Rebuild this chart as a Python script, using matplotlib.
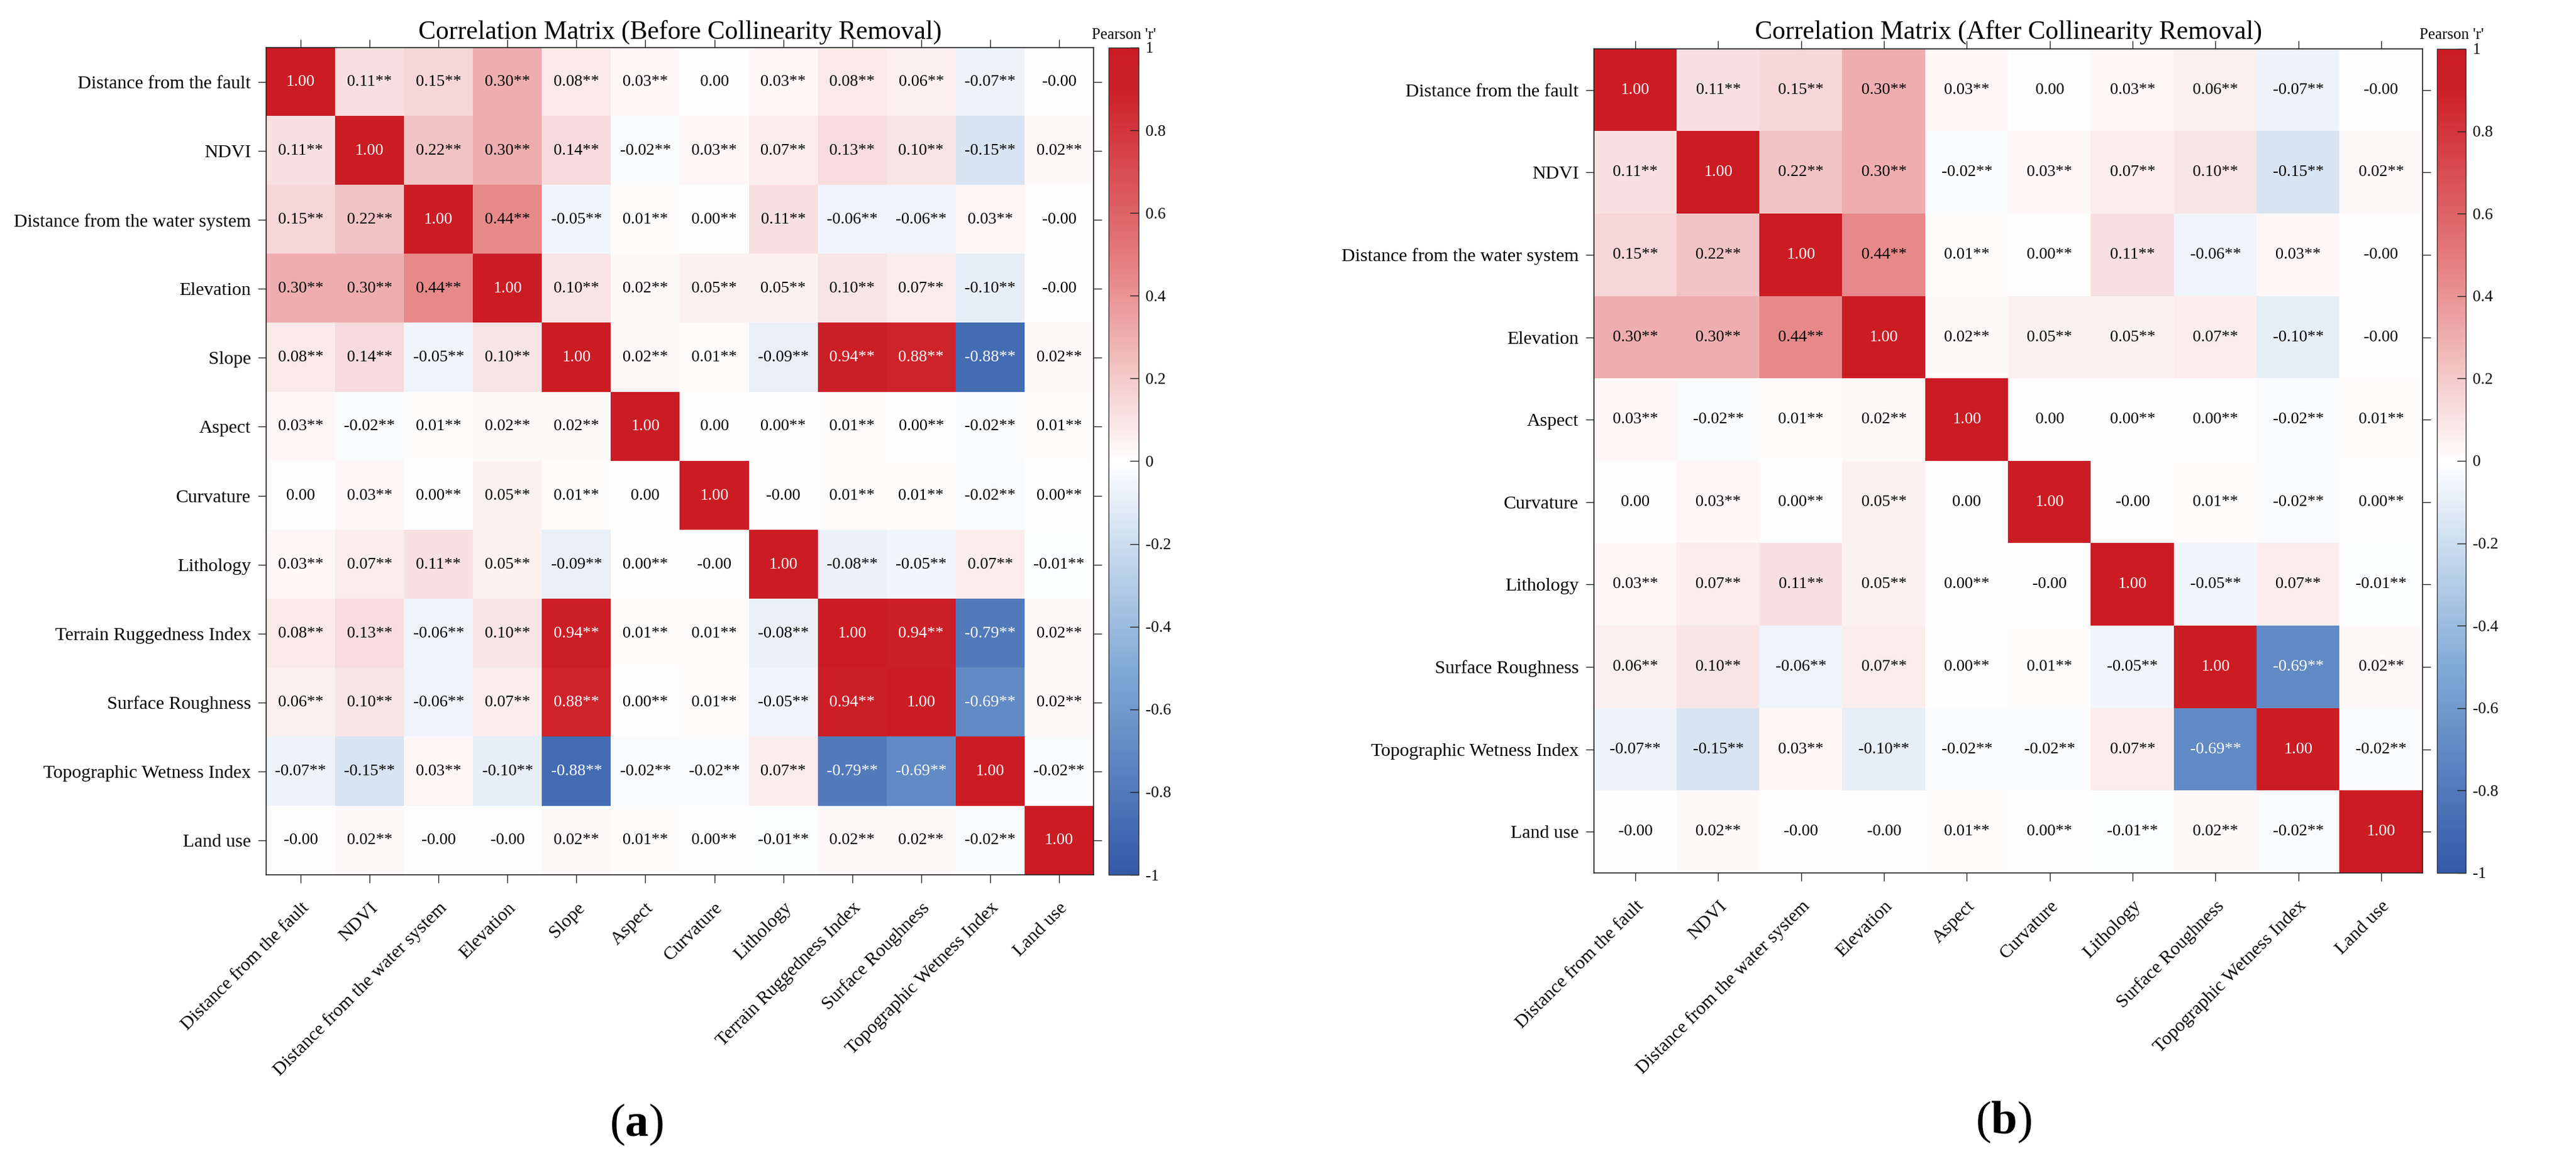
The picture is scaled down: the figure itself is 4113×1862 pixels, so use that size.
import numpy as np
import matplotlib
matplotlib.use("Agg")
import matplotlib.pyplot as plt
from matplotlib.colors import LinearSegmentedColormap
from matplotlib.ticker import FuncFormatter

plt.rcParams['font.family'] = ['Liberation Serif', 'DejaVu Serif']
plt.rcParams['mathtext.fontset'] = 'custom'
plt.rcParams['mathtext.rm'] = 'Liberation Serif'
plt.rcParams['mathtext.bf'] = 'Liberation Serif:bold'

# ---------------- data ----------------
variables_a = ['Distance from the fault', 'NDVI', 'Distance from the water system',
               'Elevation', 'Slope', 'Aspect', 'Curvature', 'Lithology',
               'Terrain Ruggedness Index', 'Surface Roughness',
               'Topographic Wetness Index', 'Land use']

corr_a = [
    [1.00, 0.11, 0.15, 0.30, 0.08, 0.03, 0.00, 0.03, 0.08, 0.06, -0.07, -0.0],
    [0.11, 1.00, 0.22, 0.30, 0.14, -0.02, 0.03, 0.07, 0.13, 0.10, -0.15, 0.02],
    [0.15, 0.22, 1.00, 0.44, -0.05, 0.01, 0.00, 0.11, -0.06, -0.06, 0.03, -0.0],
    [0.30, 0.30, 0.44, 1.00, 0.10, 0.02, 0.05, 0.05, 0.10, 0.07, -0.10, -0.0],
    [0.08, 0.14, -0.05, 0.10, 1.00, 0.02, 0.01, -0.09, 0.94, 0.88, -0.88, 0.02],
    [0.03, -0.02, 0.01, 0.02, 0.02, 1.00, 0.00, 0.00, 0.01, 0.00, -0.02, 0.01],
    [0.00, 0.03, 0.00, 0.05, 0.01, 0.00, 1.00, -0.0, 0.01, 0.01, -0.02, 0.00],
    [0.03, 0.07, 0.11, 0.05, -0.09, 0.00, -0.0, 1.00, -0.08, -0.05, 0.07, -0.01],
    [0.08, 0.13, -0.06, 0.10, 0.94, 0.01, 0.01, -0.08, 1.00, 0.94, -0.79, 0.02],
    [0.06, 0.10, -0.06, 0.07, 0.88, 0.00, 0.01, -0.05, 0.94, 1.00, -0.69, 0.02],
    [-0.07, -0.15, 0.03, -0.10, -0.88, -0.02, -0.02, 0.07, -0.79, -0.69, 1.00, -0.02],
    [-0.0, 0.02, -0.0, -0.0, 0.02, 0.01, 0.00, -0.01, 0.02, 0.02, -0.02, 1.00],
]

# 1 = marked "**" (significant)
sig_a = [
    [0, 1, 1, 1, 1, 1, 0, 1, 1, 1, 1, 0],
    [1, 0, 1, 1, 1, 1, 1, 1, 1, 1, 1, 1],
    [1, 1, 0, 1, 1, 1, 1, 1, 1, 1, 1, 0],
    [1, 1, 1, 0, 1, 1, 1, 1, 1, 1, 1, 0],
    [1, 1, 1, 1, 0, 1, 1, 1, 1, 1, 1, 1],
    [1, 1, 1, 1, 1, 0, 0, 1, 1, 1, 1, 1],
    [0, 1, 1, 1, 1, 0, 0, 0, 1, 1, 1, 1],
    [1, 1, 1, 1, 1, 1, 0, 0, 1, 1, 1, 1],
    [1, 1, 1, 1, 1, 1, 1, 1, 0, 1, 1, 1],
    [1, 1, 1, 1, 1, 1, 1, 1, 1, 0, 1, 1],
    [1, 1, 1, 1, 1, 1, 1, 1, 1, 1, 0, 1],
    [0, 1, 0, 0, 1, 1, 1, 1, 1, 1, 1, 0],
]

variables_b = ['Distance from the fault', 'NDVI', 'Distance from the water system',
               'Elevation', 'Aspect', 'Curvature', 'Lithology',
               'Surface Roughness', 'Topographic Wetness Index', 'Land use']

title_a = 'Correlation Matrix (Before Collinearity Removal)'
title_b = 'Correlation Matrix (After Collinearity Removal)'
cbar_label = "Pearson 'r'"
cbar_ticks = [-1, -0.8, -0.6, -0.4, -0.2, 0, 0.2, 0.4, 0.6, 0.8, 1]

# subset matrix for panel (b)
idx_b = [variables_a.index(v) for v in variables_b]
corr_a_arr = np.array(corr_a)
sig_a_arr = np.array(sig_a)
corr_b = corr_a_arr[np.ix_(idx_b, idx_b)]
sig_b = sig_a_arr[np.ix_(idx_b, idx_b)]

# ---------------- style ----------------
cmap = LinearSegmentedColormap.from_list(
    'pearson',
    [(0.0, (50/255, 90/255, 168/255)),
     (0.25, (130/255, 170/255, 215/255)),
     (0.5, (1, 1, 1)),
     (0.75, (228/255, 122/255, 124/255)),
     (0.95, (205/255, 32/255, 40/255)),
     (1.0, (203/255, 28/255, 36/255))])

W, H = 4113, 1862
fig = plt.figure(figsize=(W / 100, H / 100), dpi=100)


def rect(x0, y0, x1, y1):
    return [x0 / W, 1 - y1 / H, (x1 - x0) / W, (y1 - y0) / H]


def draw(axbox, cbbox, names, values, sig, title, panel, panel_xy):
    ax = fig.add_axes(rect(*axbox))
    cax = fig.add_axes(rect(*cbbox))
    values = np.asarray(values)
    n = len(names)
    im = ax.imshow(values, cmap=cmap, vmin=-1, vmax=1, aspect='auto',
                   interpolation='nearest')
    for i in range(n):
        for j in range(n):
            v = values[i, j]
            s = f"{v:.2f}" + ("**" if sig[i][j] else "")
            col = 'white' if abs(v) >= 0.5 else 'black'
            ax.text(j, i, s, ha='center', va='center', fontsize=19, color=col)
    ax.set_xticks(range(n))
    ax.set_yticks(range(n))
    ax.set_xticklabels(names, rotation=45, ha='right', rotation_mode='anchor',
                       fontsize=21.5)
    ax.set_yticklabels(names, fontsize=21.5)
    ax.tick_params(top=True, right=True, labeltop=False, labelright=False,
                   direction='out', length=9.5, width=1.0, color='#222222')
    ax.tick_params(axis='x', pad=19)
    ax.tick_params(axis='y', pad=8)
    for sp in ax.spines.values():
        sp.set_linewidth(1.2)
        sp.set_color('#222222')

    cb = fig.colorbar(im, cax=cax, ticks=cbar_ticks)
    cb.ax.yaxis.set_major_formatter(FuncFormatter(lambda t, p: f"{round(t, 1):g}"))
    cb.ax.tick_params(direction='in', length=10, width=1.0, pad=8,
                      labelsize=18.5, color='#222222')
    cb.outline.set_linewidth(1.0)
    cb.outline.set_edgecolor('#333333')

    x0, y0, x1, y1 = axbox
    fig.text(((x0 + x1) / 2) / W, 1 - 62 / H, title, ha='center',
             va='baseline', fontsize=30)
    cx0, cy0, cx1, cy1 = cbbox
    fig.text(((cx0 + cx1) / 2) / W, 1 - 62 / H, cbar_label, ha='center',
             va='baseline', fontsize=18)
    fig.text(panel_xy[0] / W, 1 - panel_xy[1] / H,
             '(' + r'$\mathbf{' + panel + '}$' + ')',
             ha='center', va='center', fontsize=54)


draw((425, 76, 1746, 1397), (1770, 76, 1818, 1397), variables_a, corr_a_arr,
     sig_a_arr, title_a, 'a', (1016, 1796))
draw((2545, 78, 3868, 1394), (3891, 78, 3937, 1394), variables_b, corr_b,
     sig_b, title_b, 'b', (3199, 1792))

fig.savefig('out.png', dpi=100, facecolor='white')
